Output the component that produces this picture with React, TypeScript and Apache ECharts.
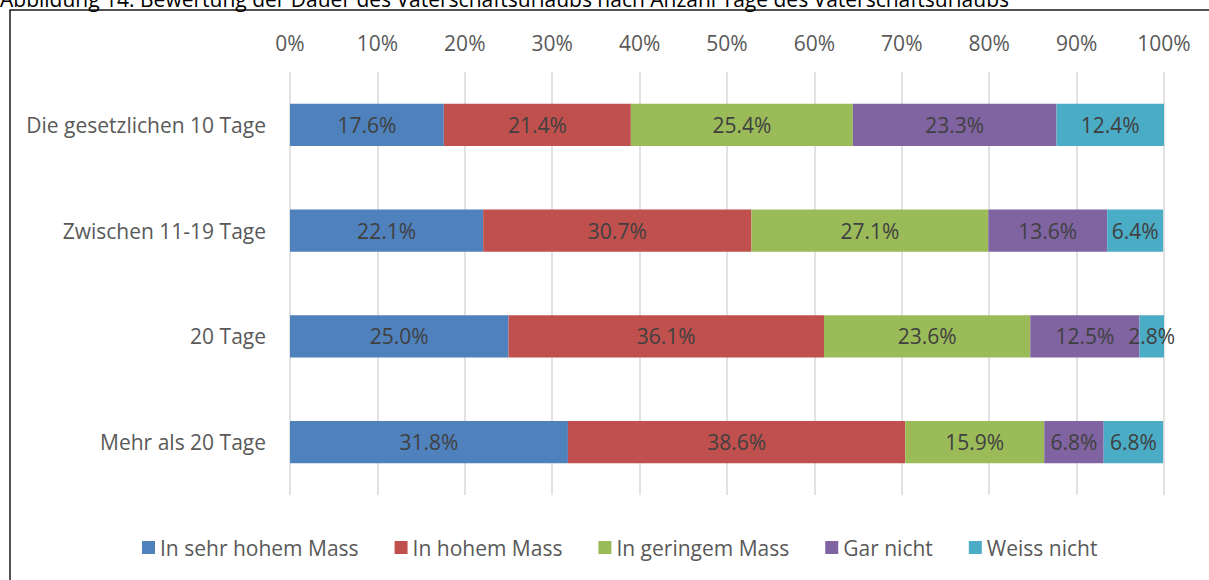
import React, { useEffect, useRef } from "react";
import * as echarts from "echarts";

const title =
  "Abbildung 14: Bewertung der Dauer des Vaterschaftsurlaubs nach Anzahl Tage des Vaterschaftsurlaubs";
const categories = [
  "Die gesetzlichen 10 Tage",
  "Zwischen 11-19 Tage",
  "20 Tage",
  "Mehr als 20 Tage",
];
const seriesNames = [
  "In sehr hohem Mass",
  "In hohem Mass",
  "In geringem Mass",
  "Gar nicht",
  "Weiss nicht",
];
const sehrHoch = [17.6, 22.1, 25.0, 31.8];
const hoch = [21.4, 30.7, 36.1, 38.6];
const gering = [25.4, 27.1, 23.6, 15.9];
const garNicht = [23.3, 13.6, 12.5, 6.8];
const weissNicht = [12.4, 6.4, 2.8, 6.8];
const xTicks = [0, 10, 20, 30, 40, 50, 60, 70, 80, 90, 100];

const colors = ["#4F81BD", "#C0504D", "#9BBB59", "#8064A2", "#4BACC6"];
const FONT = "Open Sans";
const FS = 21;

export default function App() {
  const ref = useRef<HTMLDivElement>(null);
  useEffect(() => {
    document.body.style.margin = "0";
    const chart = echarts.init(ref.current!, undefined, { renderer: "svg" });
    const values = [sehrHoch, hoch, gering, garNicht, weissNicht];
    chart.setOption({
      animation: false,
      color: colors,
      textStyle: { fontFamily: FONT },
      graphic: [
        {
          type: "rect",
          shape: { x: 10, y: 10, width: 1300, height: 700 },
          style: { fill: "none", stroke: "#1a1a1a", lineWidth: 1.5 },
          silent: true,
        },
        {
          type: "text",
          x: 0,
          y: 9,
          style: {
            text: title,
            fontFamily: FONT,
            fontSize: FS,
            fill: "#000",
            textVerticalAlign: "bottom",
          },
        },
      ],
      legend: {
        left: 137,
        top: 532,
        itemWidth: 13,
        itemHeight: 13,
        itemGap: 36,
        icon: "rect",
        textStyle: { fontSize: FS, color: "#595959", fontFamily: FONT },
        data: seriesNames,
      },
      grid: { left: 290, right: 45, top: 72, bottom: 85 },
      xAxis: {
        type: "value",
        position: "top",
        min: xTicks[0],
        max: xTicks[xTicks.length - 1],
        interval: 10,
        axisLine: { show: false },
        axisTick: { show: false },
        axisLabel: {
          formatter: (v: number) => v + "%",
          fontSize: FS,
          color: "#595959",
          fontFamily: FONT,
          margin: 19,
        },
        splitLine: { lineStyle: { color: "#D9D9D9", width: 1.5 } },
      },
      yAxis: {
        type: "category",
        inverse: true,
        data: categories,
        axisLine: { show: false },
        axisTick: { show: false },
        axisLabel: {
          fontSize: FS,
          color: "#595959",
          fontFamily: FONT,
          margin: 24,
        },
      },
      series: seriesNames.map((name, i) => ({
        name,
        type: "bar",
        stack: "total",
        barWidth: "40%",
        data: values[i],
        label: {
          show: true,
          position: "inside",
          formatter: (p: any) => p.value.toFixed(1) + "%",
          fontSize: FS,
          color: "#404040",
          fontFamily: FONT,
        },
      })),
    });
    return () => chart.dispose();
  }, []);
  return <div ref={ref} style={{ width: 1209, height: 580 }} />;
}
